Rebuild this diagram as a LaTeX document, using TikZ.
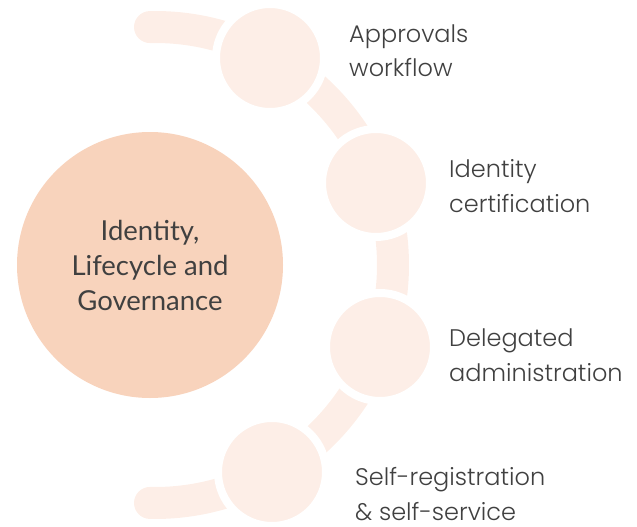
\documentclass[tikz,border=0pt]{standalone}
\usepackage{fontspec}
\setmainfont{Lato}
\newfontfamily\labelfont{Poppins}[UprightFont=* Light]
\usetikzlibrary{positioning}

\definecolor{corepeach}{HTML}{F8D3BC}
\definecolor{stepblush}{HTML}{FDEEE7}
\definecolor{inkgrey}{HTML}{404040}

\begin{document}
\begin{tikzpicture}[x=1pt, y=-1pt,
  corecircle/.style={circle, fill=corepeach, minimum size=266pt, inner sep=0pt,
    text=inkgrey, align=center, font=\fontsize{27.5}{35}\selectfont},
  stepcircle/.style={circle, fill=stepblush, draw=white, line width=8pt,
    minimum size=108pt, inner sep=0pt},
  steptext/.style={anchor=base west, align=left, text=inkgrey, inner sep=0pt,
    font=\labelfont\fontsize{24}{34.5}\selectfont},
  band/.style={draw=stepblush, line width=32pt, line cap=round}]
\useasboundingbox (0,0) rectangle (637,527);

% curved band behind the steps
\coordinate (hub) at (155,265);
\draw[band] (hub) ++(-91.2:238) arc[start angle=-91.2, end angle=91.2, radius=238];

% central topic
\node[corecircle] (core) at (150,265) {Identity,\\Lifecycle and\\Governance};

% steps along the band
\node[stepcircle] (approvals) at (270,58) {};
\node[stepcircle] (certification) at (376,183) {};
\node[stepcircle] (delegated) at (380,347) {};
\node[stepcircle] (selfservice) at (272,472) {};

% step labels (base = last line)
\node[steptext] (approvals_text) at (349,77) {Approvals\\workflow};
\node[steptext] (certification_text) at (449,212) {Identity\\certification};
\node[steptext] (delegated_text) at (449,381) {Delegated\\administration};
\node[steptext] (selfservice_text) at (355,520) {Self-registration\\\& self-service};
\end{tikzpicture}
\end{document}
